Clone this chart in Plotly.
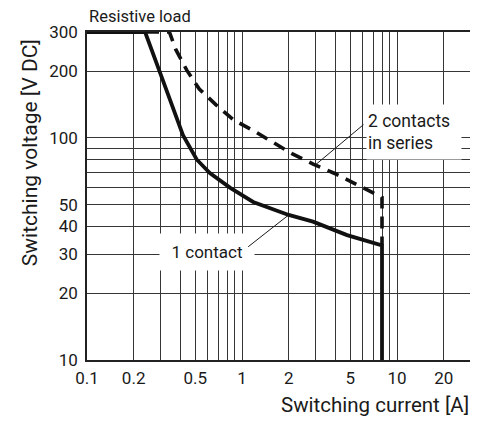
import plotly.graph_objects as go
import numpy as np

# Data (switching current [A] vs switching voltage [V DC])
one_contact_I = [0.1, 0.237, 0.30, 0.416, 0.51, 0.62, 0.84, 1.18, 2.0, 2.87, 4.76, 8.0, 8.0]
one_contact_V = [300, 300, 192, 103, 80, 69.5, 59.6, 51.5, 45, 42, 36.5, 32.8, 10]

two_contacts_I = [0.1, 0.34, 0.375, 0.44, 0.53, 0.68, 0.89, 1.18, 2.1, 2.9, 4.0, 5.4, 7.4, 8.0, 8.0]
two_contacts_V = [300, 300, 249, 202, 166, 141, 120, 108, 85, 76, 69, 62, 55, 54, 33]

x_tickvals = [0.1, 0.2, 0.5, 1, 2, 5, 10, 20]
x_ticktext = ["0.1", "0.2", "0.5", "1", "2", "5", "10", "20"]
x_minor = [0.3, 0.4, 0.6, 0.7, 0.8, 0.9, 3, 4, 6, 7, 8, 9]
y_tickvals = [10, 20, 30, 40, 50, 100, 200, 300]
y_ticktext = ["10", "20", "30", "40", "50", "100", "200", "300"]
y_minor = [60, 70, 80, 90]

FONT = "Roboto, Liberation Sans, Arial, sans-serif"
GRID = "#363636"
TXT = "#1a1a1a"

fig = go.Figure()
fig.add_trace(go.Scatter(x=two_contacts_I, y=two_contacts_V, mode="lines",
                         line=dict(color="#111111", width=3.6, dash="12px,8px"),
                         hoverinfo="skip", showlegend=False))
fig.add_trace(go.Scatter(x=one_contact_I, y=one_contact_V, mode="lines",
                         line=dict(color="#111111", width=3.8),
                         hoverinfo="skip", showlegend=False))

axis_common = dict(type="log", showline=True, mirror=True, linecolor="#222222",
                   linewidth=1.5, showgrid=True, gridcolor=GRID, gridwidth=1.2,
                   ticks="", zeroline=False, automargin=False,
                   tickfont=dict(family=FONT, size=17, color=TXT))

fig.update_xaxes(range=[np.log10(0.1), np.log10(30)], tickmode="array",
                 tickvals=x_tickvals, ticktext=x_ticktext,
                 minor=dict(tickvals=x_minor, showgrid=True, gridcolor=GRID, gridwidth=1.2, ticks=""),
                 ticklabelstandoff=2,
                 **axis_common)
fig.update_yaxes(range=[np.log10(10), np.log10(300)], tickmode="array",
                 tickvals=y_tickvals, ticktext=y_ticktext,
                 minor=dict(tickvals=y_minor, showgrid=True, gridcolor=GRID, gridwidth=1.2, ticks=""),
                 ticklabelstandoff=4,
                 **axis_common)

annotations = [
    # curve labels (white boxes hide the grid)
    dict(text="1 contact", xref="paper", yref="paper", x=0.3125, y=0.329,
         xanchor="center", yanchor="middle",
         showarrow=False, bgcolor="white", width=92, height=34,
         font=dict(family=FONT, size=17, color=TXT)),
    dict(text="2 contacts<br>in series", xref="paper", yref="paper", x=0.8516, y=0.6966,
         xanchor="center", yanchor="middle",
         showarrow=False, bgcolor="white", width=92, height=52, align="left",
         font=dict(family=FONT, size=17.5, color=TXT)),
    # leader lines
    dict(text="", x=np.log10(2.0), y=np.log10(45), xref="x", yref="y",
         showarrow=True, arrowhead=0, arrowwidth=1, arrowcolor=TXT, ax=-42, ay=33),
    dict(text="", x=np.log10(3.0), y=np.log10(76), xref="x", yref="y",
         showarrow=True, arrowhead=0, arrowwidth=1, arrowcolor=TXT, ax=49, ay=-41),
    # titles
    dict(text="Switching voltage [V DC]", xref="paper", yref="paper", x=-0.148, y=0.631,
         xanchor="center", yanchor="middle",
         textangle=-90, showarrow=False, font=dict(family=FONT, size=21, color=TXT)),
    dict(text="Switching current [A]", xref="paper", yref="paper", x=1.0, y=-0.137,
         xanchor="right", yanchor="middle",
         showarrow=False, font=dict(family=FONT, size=20.5, color=TXT)),
    dict(text="Resistive load", xref="paper", yref="paper", x=0.0, y=1.048,
         xanchor="left", yanchor="middle",
         showarrow=False, font=dict(family=FONT, size=16.5, color=TXT)),
]

# page body has an 8px default margin, so the figure is sized/offset to compensate
fig.update_layout(width=470, height=417, margin=dict(l=79, r=7, t=24, b=65),
                  paper_bgcolor="white", plot_bgcolor="white",
                  annotations=annotations)

fig.write_html("out.html")
